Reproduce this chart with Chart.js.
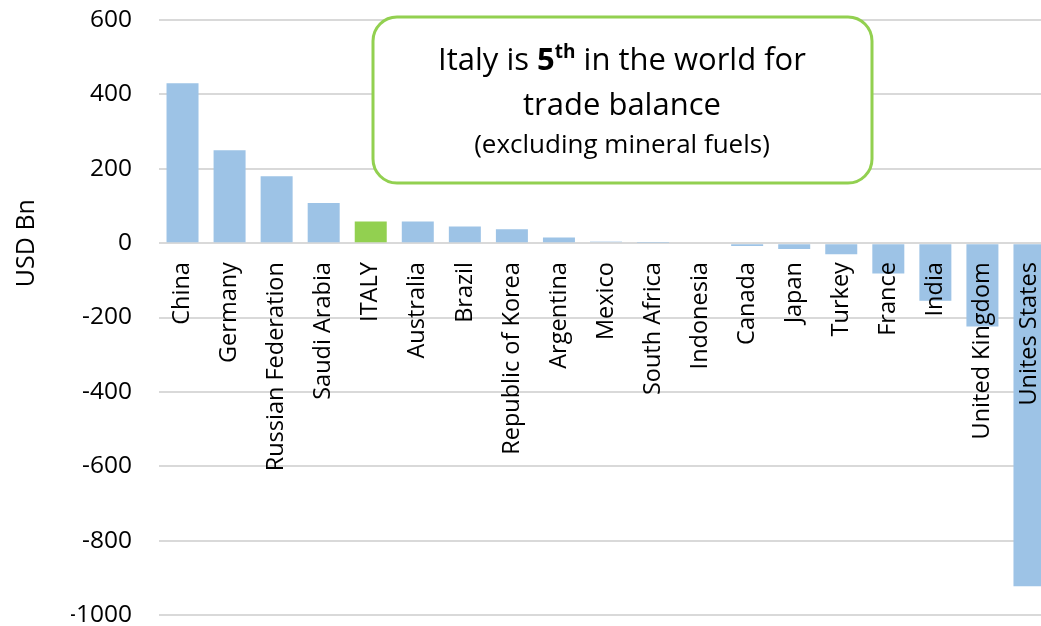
<!DOCTYPE html>
<html>
<head>
<meta charset="utf-8">
<script src="https://cdn.jsdelivr.net/npm/chart.js@4.4.1/dist/chart.umd.min.js"></script>
<style>
    body { margin: 0; overflow: hidden; background: #ffffff; }
    #wrap { width: 1053px; height: 626px; }
</style>
</head>
<body>
<div id="wrap">
    <canvas id="chart" width="1053" height="626"></canvas>
</div>
<script>
var paesi = ['China', 'Germany', 'Russian Federation', 'Saudi Arabia', 'ITALY', 'Australia', 'Brazil',
    'Republic of Korea', 'Argentina', 'Mexico', 'South Africa', 'Indonesia', 'Canada', 'Japan',
    'Turkey', 'France', 'India', 'United Kingdom', 'Unites States'];
var saldi = [430, 250, 180, 108, 58, 58, 45, 37, 15, 4, 1, -3, -8, -16, -30, -82, -155, -224, -923];
var tickAsseY = [600, 400, 200, 0, -200, -400, -600, -800, -1000];

var blu = '#9DC3E6';
var verde = '#92D050';

function getColori()
{
    var colori = [];

    for (var i = 0; i < paesi.length; i++) {
        if (paesi[i] === 'ITALY') {
            colori.push(verde);
        } else {
            colori.push(blu);
        }
    }

    return colori;
}

// riquadro con il testo e titolo dell'asse Y
var notaPlugin = {
    id: 'nota',
    afterDraw: function(chart)
    {
        var ctx = chart.ctx;
        var scalaY = chart.scales.y;

        ctx.save();

        // titolo asse
        ctx.translate(27, scalaY.getPixelForValue(0));
        ctx.rotate(-Math.PI / 2);
        ctx.fillStyle = '#000000';
        ctx.font = '25px "Open Sans"';
        ctx.textAlign = 'center';
        ctx.textBaseline = 'middle';
        ctx.fillText('USD Bn', 0, 0);
        ctx.restore();

        ctx.save();
        ctx.beginPath();
        ctx.roundRect(373, 17, 499, 166, 24);
        ctx.fillStyle = '#ffffff';
        ctx.fill();
        ctx.lineWidth = 3;
        ctx.strokeStyle = verde;
        ctx.stroke();

        ctx.fillStyle = '#000000';
        ctx.textBaseline = 'alphabetic';
        ctx.textAlign = 'left';

        var pezzi = [
            { testo: 'Italy is ', font: '31px "Open Sans"', su: 0 },
            { testo: '5', font: 'bold 31px "Open Sans"', su: 0 },
            { testo: 'th', font: 'bold 19px "Open Sans"', su: 12 },
            { testo: ' in the world for', font: '31px "Open Sans"', su: 0 }
        ];
        var larghezza = 0;
        for (var i = 0; i < pezzi.length; i++) {
            ctx.font = pezzi[i].font;
            pezzi[i].w = ctx.measureText(pezzi[i].testo).width;
            larghezza += pezzi[i].w;
        }
        var x = 622 - larghezza / 2;
        for (var j = 0; j < pezzi.length; j++) {
            ctx.font = pezzi[j].font;
            ctx.fillText(pezzi[j].testo, x, 70 - pezzi[j].su);
            x += pezzi[j].w;
        }

        ctx.textAlign = 'center';
        ctx.font = '31px "Open Sans"';
        ctx.fillText('trade balance', 622, 115);
        ctx.font = '26px "Open Sans"';
        ctx.fillText('(excluding mineral fuels)', 622, 153);

        ctx.restore();
    }
};

var ctx = document.getElementById('chart');

var chart = new Chart(ctx, {
    type: 'bar',
    data: {
        labels: paesi,
        datasets: [{
            data: saldi,
            backgroundColor: getColori(),
            barPercentage: 0.68,
            categoryPercentage: 1
        }]
    },
    options: {
        responsive: false,
        animation: false,
        layout: {
            padding: { left: 71, top: 20, right: 0, bottom: 0 }
        },
        plugins: {
            legend: { display: false },
            tooltip: { enabled: false }
        },
        scales: {
            x: {
                position: { y: 0 },
                grid: { display: false, drawTicks: false },
                border: { display: false },
                afterFit: function(scala) {
                    scala.paddingLeft = 0;
                    scala.paddingRight = 0;
                },
                ticks: {
                    color: '#000000',
                    font: { family: 'Open Sans', size: 23.5 },
                    minRotation: 90,
                    maxRotation: 90,
                    autoSkip: false,
                    padding: 19,
                    z: 1
                }
            },
            y: {
                min: -1000,
                max: 600,
                afterBuildTicks: function(scala) {
                    scala.ticks = tickAsseY.map(function(v) { return { value: v }; });
                },
                afterFit: function(scala) {
                    scala.width = 88;
                    scala.paddingTop = 11;
                    scala.paddingBottom = 11;
                },
                grid: { color: '#D9D9D9', lineWidth: 2, drawTicks: false },
                border: { display: false },
                ticks: {
                    color: '#000000',
                    font: { family: 'Open Sans', size: 24.5, lineHeight: 1 },
                    padding: 27,
                    callback: function(valore) { return valore; }
                }
            }
        }
    },
    plugins: [notaPlugin]
});
</script>
</body>
</html>
